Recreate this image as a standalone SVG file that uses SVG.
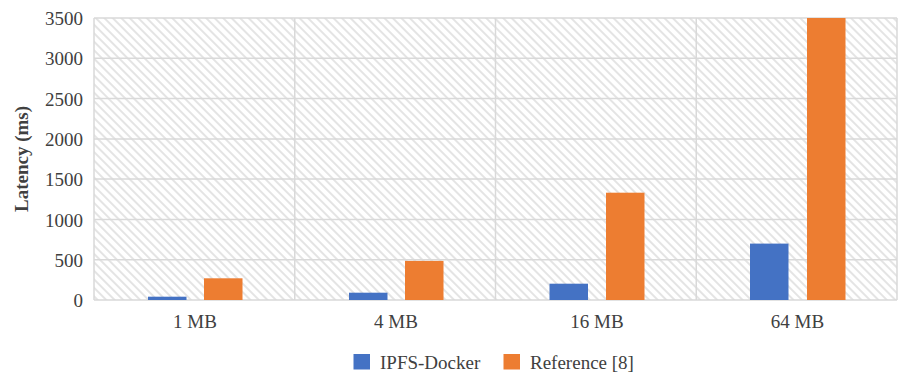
<svg xmlns="http://www.w3.org/2000/svg" width="902" height="377" viewBox="0 0 902 377">
<defs>
<pattern id="hatch" width="6" height="6" patternUnits="userSpaceOnUse" patternTransform="rotate(-45)">
<rect width="6" height="6" fill="#ffffff"/>
<rect x="0" y="0" width="2" height="6" fill="#e4e4e4"/>
</pattern>
</defs>
<style>
.grid{stroke:#d9d9d9;stroke-width:1.5;fill:none}
.tick{font-family:"Liberation Serif","DejaVu Serif",serif;font-size:19px;fill:#404040}
.blue{fill:#4472c4}
.orange{fill:#ed7d31}
.title{font-family:"Liberation Serif","DejaVu Serif",serif;font-size:19px;font-weight:bold;fill:#404040}
</style>
<rect width="902" height="377" fill="#ffffff"/>
<g id="plot-area">
<rect x="94" y="18" width="803" height="282" fill="url(#hatch)"/>
<g class="grid">
<line x1="94" y1="18" x2="897" y2="18"/>
<line x1="94" y1="58.3" x2="897" y2="58.3"/>
<line x1="94" y1="98.6" x2="897" y2="98.6"/>
<line x1="94" y1="138.9" x2="897" y2="138.9"/>
<line x1="94" y1="179.1" x2="897" y2="179.1"/>
<line x1="94" y1="219.4" x2="897" y2="219.4"/>
<line x1="94" y1="259.7" x2="897" y2="259.7"/>
<line x1="94" y1="300" x2="897" y2="300"/>
<line x1="94" y1="18" x2="94" y2="300"/>
<line x1="294.75" y1="18" x2="294.75" y2="300"/>
<line x1="495.5" y1="18" x2="495.5" y2="300"/>
<line x1="696.25" y1="18" x2="696.25" y2="300"/>
<line x1="897" y1="18" x2="897" y2="300"/>
</g>
</g>
<g id="y-axis" class="tick" text-anchor="end">
<text x="83" y="25">3500</text>
<text x="83" y="65">3000</text>
<text x="83" y="105.5">2500</text>
<text x="83" y="146">2000</text>
<text x="83" y="186">1500</text>
<text x="83" y="226.5">1000</text>
<text x="83" y="267">500</text>
<text x="83" y="307">0</text>
</g>
<text id="y-title" class="title" text-anchor="middle" transform="translate(28,159) rotate(-90)">Latency (ms)</text>
<g id="bars-ipfs" class="blue">
<rect x="148" y="296.7" width="38.5" height="3.3"/>
<rect x="349" y="292.7" width="38.5" height="7.3"/>
<rect x="549.5" y="283.7" width="38.5" height="16.3"/>
<rect x="750" y="243.6" width="38.5" height="56.4"/>
</g>
<g id="bars-reference" class="orange">
<rect x="204" y="278.3" width="38.5" height="21.7"/>
<rect x="405" y="260.9" width="38.5" height="39.1"/>
<rect x="606" y="192.7" width="38.5" height="107.3"/>
<rect x="807" y="18" width="38.5" height="282"/>
</g>
<g id="x-axis" class="tick" text-anchor="middle">
<text x="195" y="328">1 MB</text>
<text x="396" y="328">4 MB</text>
<text x="597" y="328">16 MB</text>
<text x="797.5" y="328">64 MB</text>
</g>
<g id="legend">
<rect class="blue" x="353.5" y="354" width="16.5" height="15.5"/>
<text class="tick" x="380" y="369">IPFS-Docker</text>
<rect class="orange" x="503.5" y="354" width="16.5" height="15.5"/>
<text class="tick" x="530" y="369">Reference [8]</text>
</g>
</svg>
